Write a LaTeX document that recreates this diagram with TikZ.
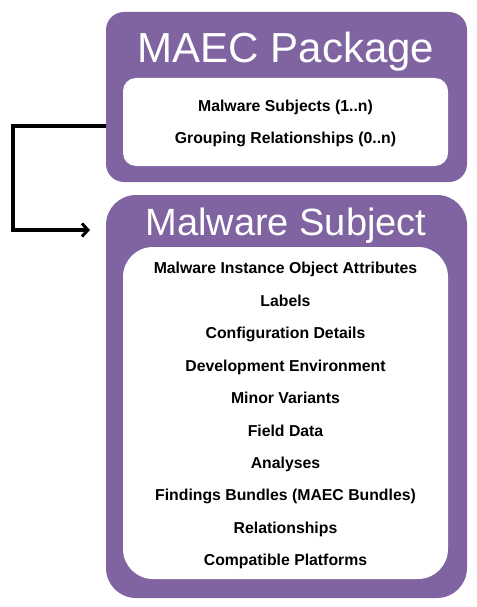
\documentclass[tikz,border=0pt]{standalone}
\usepackage{fontspec}
\setmainfont{Liberation Sans}
\usetikzlibrary{arrows.meta,calc}
\definecolor{maecpurple}{RGB}{128,100,162}
\begin{document}
\begin{tikzpicture}[x=1pt,y=-1pt,
  outerbox/.style={fill=maecpurple,draw=none,inner sep=0pt,outer sep=0pt},
  innerbox/.style={fill=white,draw=none,inner sep=0pt,outer sep=0pt},
  titletext/.style={text=white,font=\fontsize{42}{46}\selectfont,anchor=base,inner sep=0pt},
  itemtext/.style={text=black,font=\fontsize{15.8}{18}\bfseries\selectfont,anchor=base,inner sep=0pt},
  linkarrow/.style={draw=black,line width=3.4pt,-{Straight Barb[length=6pt,width=13pt,line width=3pt]}}
]
\useasboundingbox (0,0) rectangle (476,607);
% MAEC Package box
\node[outerbox,rounded corners=18pt,minimum width=361pt,minimum height=170pt] (pkg) at (286.5,97) {};
\node[innerbox,rounded corners=13pt,minimum width=325pt,minimum height=88pt] (pkgin) at (285.5,122) {};
\node[titletext] (pkgtitle) at (286,63) {MAEC Package};
\node[itemtext] (p1) at (285.5,111) {Malware Subjects (1..n)};
\node[itemtext] (p2) at (285.5,143) {Grouping Relationships (0..n)};
% Malware Subject box
\node[outerbox,rounded corners=30pt,minimum width=361pt,minimum height=403pt] (subj) at (286.5,396.5) {};
\node[innerbox,rounded corners=30pt,minimum width=325pt,minimum height=332pt] (subjin) at (285.5,413) {};
\node[titletext,font=\fontsize{38}{42}\selectfont] (subjtitle) at (286,235) {Malware Subject};
\node[itemtext] (s1) at (285.5,273.7) {Malware Instance Object Attributes};
\node[itemtext] (s2) at (285.5,306.2) {Labels};
\node[itemtext] (s3) at (285.5,338.6) {Configuration Details};
\node[itemtext] (s4) at (285.5,371.1) {Development Environment};
\node[itemtext] (s5) at (285.5,403.5) {Minor Variants};
\node[itemtext] (s6) at (285.5,436.0) {Field Data};
\node[itemtext] (s7) at (285.5,468.4) {Analyses};
\node[itemtext] (s8) at (285.5,500.9) {Findings Bundles (MAEC Bundles)};
\node[itemtext] (s9) at (285.5,533.3) {Relationships};
\node[itemtext] (s10) at (285.5,565.8) {Compatible Platforms};
% connector
\coordinate (tip) at ($(subj.north west)+(-16,35)$);
\draw[linkarrow] ($(pkg.north west)+(0,114)$) -- ++(-93,0) |- (tip);
\end{tikzpicture}
\end{document}
